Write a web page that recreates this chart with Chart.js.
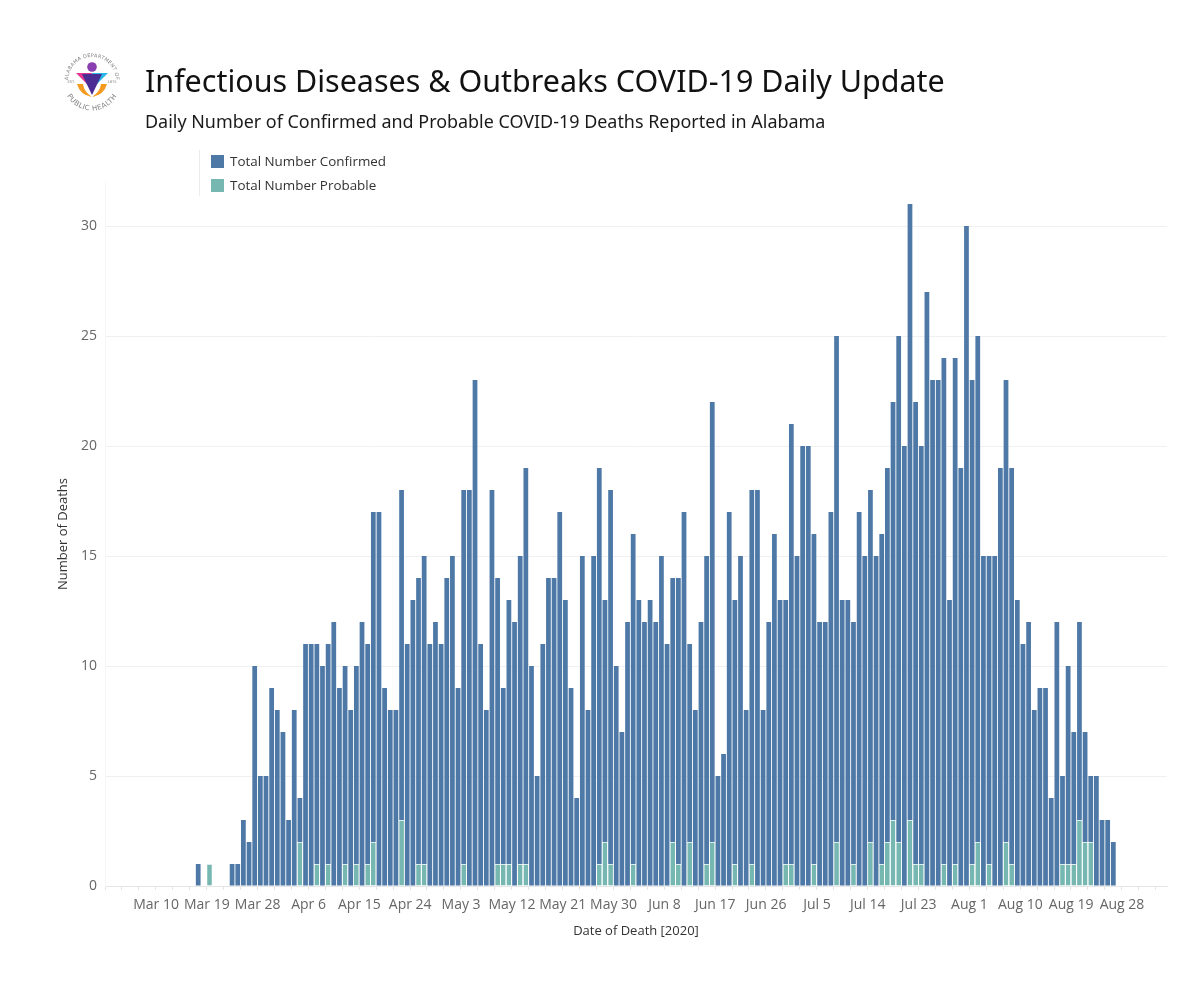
<!DOCTYPE html>
<html>
<head>
<meta charset="utf-8">
<script src="https://cdn.jsdelivr.net/npm/chart.js@4.4.1/dist/chart.umd.min.js"></script>
<style>
  html, body { margin: 0; padding: 0; background: #fff; }
  #wrap { position: relative; width: 1200px; height: 992px; overflow: hidden; background: #fff; }
  #c { position: absolute; left: 0; top: 0; }
  .hdr { position: absolute; left: 145px; white-space: nowrap; font-family: "Noto Sans", sans-serif; color: #111; line-height: 1; }
  #title { font-size: 31px; top: 65px; }
  #subtitle { font-size: 18px; top: 113px; color: #1a1a1a; }
  #legend { position: absolute; left: 199px; top: 150px; height: 46px; border-left: 1px solid #ececec; font-family: "Open Sans", sans-serif; font-size: 13.4px; color: #333; }
  .li { position: absolute; left: 11px; white-space: nowrap; height: 14px; line-height: 14px; }
  .sw { position: absolute; left: 0; top: 0; width: 13px; height: 13px; }
  .lt { position: absolute; left: 19px; top: -1px; }
</style>
</head>
<body>
<div id="wrap">
  <canvas id="c" width="1200" height="992"></canvas>
  <svg width="66" height="66" viewBox="0 0 66 66" style="position:absolute;left:59px;top:48px">
    <defs>
      <path id="arcTop" d="M 9 33 A 24 24 0 0 1 57 33"/>
      <path id="arcBot" d="M 4.5 34 A 28.5 28.5 0 0 0 61.5 34"/>
    </defs>
    <circle cx="33" cy="33" r="31" fill="#fff"/>
    <text font-size="5" fill="#808080" font-family="DejaVu Sans" letter-spacing="0.25"><textPath href="#arcTop" startOffset="50%" text-anchor="middle">ALABAMA DEPARTMENT OF</textPath></text>
    <text font-size="7" fill="#808080" font-family="DejaVu Sans" letter-spacing="0.5"><textPath href="#arcBot" startOffset="50%" text-anchor="middle">PUBLIC HEALTH</textPath></text>
    <text x="8.5" y="35" font-size="3.6" fill="#808080" font-family="DejaVu Sans">EST.</text>
    <text x="48.5" y="35" font-size="3.6" fill="#808080" font-family="DejaVu Sans">1875</text>
    <circle cx="33" cy="19" r="4.8" fill="#8a3fb0"/>
    <polygon points="17,25 33,25 29,37" fill="#e2348e"/>
    <polygon points="33,25 49,25 37,37" fill="#2bb5e8"/>
    <polygon points="23,26 43,26 33,47" fill="#4a2c93"/>
    <path d="M 18 36 Q 21 47 33 49 Q 25 44 24 36 Z" fill="#f39a1f"/>
    <path d="M 48 36 Q 45 47 33 49 Q 41 44 42 36 Z" fill="#f39a1f"/>
  </svg>
  <div id="title" class="hdr">Infectious Diseases &amp; Outbreaks COVID-19 Daily Update</div>
  <div id="subtitle" class="hdr">Daily Number of Confirmed and Probable COVID-19 Deaths Reported in Alabama</div>
  <div id="legend">
    <div class="li" style="top:5px"><span class="sw" style="background:#4e79a7"></span><span class="lt">Total Number Confirmed</span></div>
    <div class="li" style="top:29px"><span class="sw" style="background:#76b7b2"></span><span class="lt">Total Number Probable</span></div>
  </div>
</div>
<script>
// ---- categories: one per day, Mar 2 – Sep 5, 2020 ----
const startYear = 2020, startMonth = 2, startDay = 2;
const dayCount = 188;
const monthNames = ['Jan','Feb','Mar','Apr','May','Jun','Jul','Aug','Sep','Oct','Nov','Dec'];
const days = [];
for (let i = 0; i < dayCount; i++) {
  const d = new Date(startYear, startMonth, startDay + i);
  days.push(monthNames[d.getMonth()] + ' ' + d.getDate());
}

// ---- tick labels shown on the x axis ----
const tickLabels = ['Mar 10','Mar 19','Mar 28','Apr 6','Apr 15','Apr 24','May 3','May 12','May 21','May 30',
  'Jun 8','Jun 17','Jun 26','Jul 5','Jul 14','Jul 23','Aug 1','Aug 10','Aug 19','Aug 28'];

// ---- confirmed deaths by day ----
const confirmedMar = [0,0,0,0,0,0,0,0,0,0,0,0,0,0,0,0, 1,0,0,0,0,0,1,1,3,2,10,5,5,9];            // Mar 2–31
const confirmedApr = [8,7,3,8,2,11,11,10,10,10,12,9,9,8,9,12,10,15,17,9,8,8,15,11,13,13,14,11,12,11];
const confirmedMay = [14,15,9,17,18,23,11,8,18,13,8,12,12,14,18,10,5,11,14,14,17,13,9,4,15,8,15,18,11,17,10];
const confirmedJun = [7,12,15,13,12,13,12,15,11,12,13,17,9,8,12,14,20,5,6,17,12,15,8,17,18,8,12,16,13,12];
const confirmedJul = [20,15,20,20,15,12,12,17,23,13,13,11,17,15,16,15,15,17,19,23,20,28,21,19,27,23,23,23,13,23,19];
const confirmedAug = [30,22,23,15,14,15,19,21,18,13,11,12,8,9,9,4,12,4,9,6,9,5,3,5,3,3,2,0,0,0,0];
const confirmedSep = [0,0,0,0,0];

// ---- probable deaths by day ----
const probableMar = [0,0,0,0,0,0,0,0,0,0,0,0,0,0,0,0, 0,0,1,0,0,0,0,0,0,0,0,0,0,0];
const probableApr = [0,0,0,0,2,0,0,1,0,1,0,0,1,0,1,0,1,2,0,0,0,0,3,0,0,1,1,0,0,0];
const probableMay = [0,0,0,1,0,0,0,0,0,1,1,1,0,1,1,0,0,0,0,0,0,0,0,0,0,0,0,1,2,1,0];
const probableJun = [0,0,1,0,0,0,0,0,0,2,1,0,2,0,0,1,2,0,0,0,1,0,0,1,0,0,0,0,0,1];
const probableJul = [1,0,0,0,1,0,0,0,2,0,0,1,0,0,2,0,1,2,3,2,0,3,1,1,0,0,0,1,0,1,0];
const probableAug = [0,1,2,0,1,0,0,2,1,0,0,0,0,0,0,0,0,1,1,1,3,2,2,0,0,0,0,0,0,0,0];
const probableSep = [0,0,0,0,0];

const confirmed = [].concat(confirmedMar, confirmedApr, confirmedMay, confirmedJun, confirmedJul, confirmedAug, confirmedSep);
const probable  = [].concat(probableMar, probableApr, probableMay, probableJun, probableJul, probableAug, probableSep);

const yTicks = [0, 5, 10, 15, 20, 25, 30];

// ---- fit header widths ----
function fitWidth(id, target, baseline) {
  const el = document.getElementById(id);
  const w = el.getBoundingClientRect().width;
  const fs = parseFloat(getComputedStyle(el).fontSize) * target / w;
  el.style.fontSize = fs + 'px';
  el.style.top = (baseline - 0.888 * fs) + 'px';
}
fitWidth('title', 800, 92.3);
fitWidth('subtitle', 681, 129);

const nz = a => a.map(v => (v === 0 ? null : v));

new Chart(document.getElementById('c'), {
  type: 'bar',
  data: {
    labels: days,
    datasets: [
      {
        label: 'Total Number Probable',
        data: nz(probable),
        backgroundColor: '#76b7b2',
        borderColor: '#d9ece9',
        borderWidth: { top: 1, left: 0, right: 0, bottom: 0 },
        borderSkipped: 'start',
        barPercentage: 0.84,
        categoryPercentage: 1,
        inflateAmount: 0
      },
      {
        label: 'Total Number Confirmed',
        data: nz(confirmed),
        backgroundColor: '#4e79a7',
        borderWidth: 0,
        barPercentage: 0.84,
        categoryPercentage: 1,
        inflateAmount: 0
      }
    ]
  },
  options: {
    responsive: false,
    animation: false,
    devicePixelRatio: 1,
    layout: { padding: { left: 50, right: 33, top: 182, bottom: 49 } },
    plugins: { legend: { display: false }, tooltip: { enabled: false } },
    scales: {
      x: {
        stacked: true,
        offset: true,
        grid: {
          display: true,
          offset: true,
          drawOnChartArea: false,
          drawTicks: true,
          tickLength: 4,
          color: ctx => (ctx.index % 3 === 0 ? '#e4e4e4' : 'rgba(0,0,0,0)')
        },
        border: { display: true, color: '#e6e6e6' },
        ticks: {
          autoSkip: false,
          maxRotation: 0,
          minRotation: 0,
          padding: 7,
          labelOffset: 3,
          color: '#666',
          font: { family: 'Open Sans', size: 14 },
          callback: function (v) {
            const l = this.getLabelForValue(v);
            return tickLabels.includes(l) ? l : '';
          }
        },
        title: {
          display: true,
          text: 'Date of Death [2020]',
          color: '#333',
          font: { family: 'Open Sans', size: 13 },
          padding: { top: 0, bottom: 4 }
        },
        afterFit: s => { s.height = 57; }
      },
      y: {
        stacked: true,
        min: 0,
        max: 32,
        afterBuildTicks: s => { s.ticks = yTicks.map(v => ({ value: v })); },
        ticks: { stepSize: 5, padding: 8, color: '#666', font: { family: 'Open Sans', size: 14 } },
        grid: { color: '#f0f0f0', drawTicks: false },
        border: { display: true, color: '#f6f6f6' },
        title: {
          display: true,
          text: 'Number of Deaths',
          color: '#333',
          font: { family: 'Open Sans', size: 13 },
          padding: { top: 5, bottom: 0 }
        },
        afterFit: s => { s.width = 55; }
      }
    }
  }
});
</script>
</body>
</html>
